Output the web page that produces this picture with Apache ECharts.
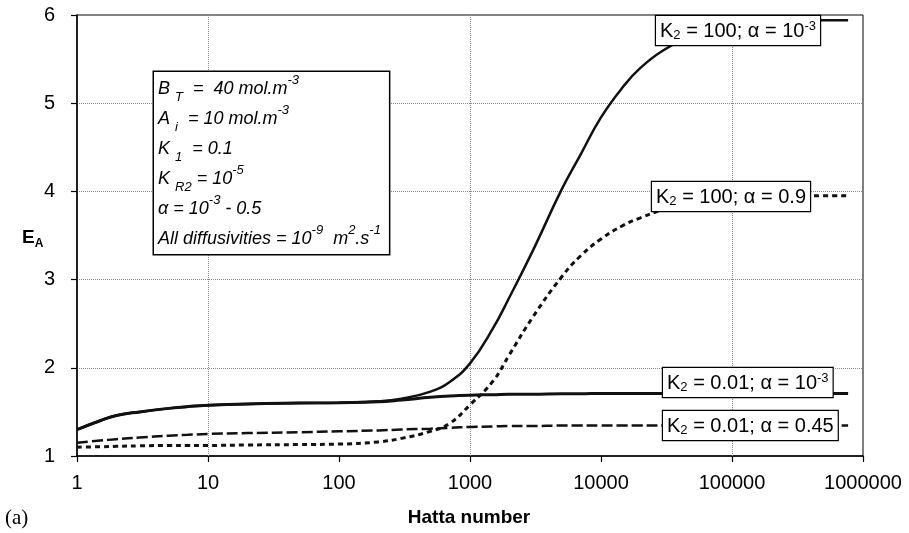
<!DOCTYPE html>
<html><head><meta charset="utf-8">
<script src="https://cdn.jsdelivr.net/npm/echarts@6/dist/echarts.min.js"></script>
<style>html,body{margin:0;padding:0;background:#fff}#c{width:909px;height:533px}</style>
</head><body><div id="c"></div>
<script>
// Hatta numbers (x) shared by all curves
const hatta = [1, 1.5, 2, 3, 5, 7, 10, 20, 50, 100, 200, 300, 500, 700, 1000, 1500, 2000, 3000, 5000, 7000, 10000, 15000, 20000, 30000, 50000, 100000, 200000, 500000, 770000];
// E_A curves
const eK100a0001 = [1.30,1.40,1.46,1.50,1.54,1.56,1.575,1.59,1.60,1.605, 1.62,1.65,1.73,1.84,2.05, 2.45,2.80,3.32,4.02,4.42, 4.84,5.20,5.40,5.60,5.76, 5.87,5.92,5.94,5.94];
const eK100a09   = [1.10,1.105,1.11,1.115,1.12,1.12,1.12,1.125,1.13,1.135, 1.16,1.20,1.28,1.37,1.58, 1.85,2.15,2.57,3.03,3.27, 3.46,3.62,3.70,3.79,3.86, 3.91,3.93,3.95,3.95];
const eK001a0001 = [1.30,1.40,1.46,1.50,1.54,1.56,1.575,1.59,1.60,1.605, 1.615,1.635,1.665,1.68,1.69, 1.695,1.70,1.70,1.705,1.705, 1.71,1.71,1.71,1.71,1.71, 1.71,1.71,1.71,1.71];
const eK001a045  = [1.15,1.175,1.19,1.21,1.23,1.24,1.25,1.26,1.27,1.28, 1.29,1.30,1.31,1.32,1.33, 1.335,1.34,1.34,1.345,1.345, 1.345,1.345,1.345,1.345,1.345, 1.345,1.345,1.345,1.345];
// axes
const xMin = 1, xMax = 1000000;
const yMin = 1, yMax = 6, yStep = 1;
const vGridAt = [10, 1000, 100000];

const pairs = ys => hatta.map((h, i) => [h, ys[i]]);
const FONT = 'Liberation Sans, Arial, sans-serif';
const chart = echarts.init(document.getElementById('c'), null, {renderer: 'canvas'});

const labelRich = {
  t: {fontSize: 20, fontFamily: FONT, fill: '#000', color: '#000', lineHeight: 22},
  s: {fontSize: 13, fontFamily: FONT, fill: '#000', color: '#000', lineHeight: 12, verticalAlign: 'bottom'},
  p: {fontSize: 13, fontFamily: FONT, fill: '#000', color: '#000', lineHeight: 12, verticalAlign: 'top'}
};
function boxLabel(x, y, text) {
  return {
    type: 'text', x: x, y: y, z: 100,
    style: {
      text: text, rich: labelRich, align: 'left', verticalAlign: 'top',
      backgroundColor: '#fff', borderColor: '#000', borderWidth: 1.2,
      padding: [4, 4, 3, 4]
    }
  };
}
const paramRich = {
  n: {fontSize: 18, fontStyle: 'italic', fontFamily: FONT, fill: '#000', color: '#000', lineHeight: 30},
  b: {fontSize: 13, fontStyle: 'italic', fontFamily: FONT, fill: '#000', color: '#000', lineHeight: 22, verticalAlign: 'bottom'},
  u: {fontSize: 13, fontStyle: 'italic', fontFamily: FONT, fill: '#000', color: '#000', lineHeight: 18, verticalAlign: 'top'}
};
const paramText = [
  '{n|B }{b|T}{n|  =  40 mol.m}{u|-3}',
  '{n|A }{b|i}{n|  = 10 mol.m}{u|-3}',
  '{n|K }{b|1}{n|  = 0.1}',
  '{n|K }{b|R2}{n| = 10}{u|-5}',
  '{n|α = 10}{u|-3}{n| - 0.5}',
  '{n|All diffusivities = 10}{u|-9}{n|  m}{u|2}{n|.s}{u|-1}'
].join('\n');

const option = {
  animation: false,
  backgroundColor: '#fff',
  grid: {left: 77, right: 46, top: 15, bottom: 77, show: true, borderColor: '#000', borderWidth: 1, containLabel: false, outerBoundsMode: 'none'},
  xAxis: {
    type: 'log', logBase: 10, min: xMin, max: xMax,
    axisLine: {show: true, lineStyle: {color: '#000', width: 1.5}},
    axisTick: {show: true, inside: false, length: 6, lineStyle: {color: '#000', width: 1.2}},
    axisLabel: {color: '#000', fontSize: 20, fontFamily: FONT, margin: 17, formatter: v => String(Math.round(v))},
    splitLine: {show: false},
    minorTick: {show: false}
  },
  yAxis: {
    type: 'value', min: yMin, max: yMax, interval: yStep,
    axisLine: {show: true, lineStyle: {color: '#000', width: 1.5}},
    axisTick: {show: true, inside: false, length: 6, lineStyle: {color: '#000', width: 1.2}},
    axisLabel: {color: '#000', fontSize: 20, fontFamily: FONT, margin: 22},
    splitLine: {show: true, lineStyle: {type: 'dotted', color: '#888', width: 1}}
  },
  series: [
    {
      name: 'K2 = 100; α = 10^-3', type: 'line', data: pairs(eK100a0001), showSymbol: false, symbol: 'none',
      smooth: 0.45, lineStyle: {color: '#111', width: 2.5, type: 'solid'}, z: 5,
      markLine: {
        silent: true, symbol: ['none', 'none'], label: {show: false},
        lineStyle: {type: 'dotted', color: '#888', width: 1}, z: 1,
        data: vGridAt.map(v => ({xAxis: v}))
      }
    },
    {
      name: 'K2 = 100; α = 0.9', type: 'line', data: pairs(eK100a09), showSymbol: false, symbol: 'none',
      smooth: 0.45, lineStyle: {color: '#111', width: 3, type: [5, 4]}, z: 5
    },
    {
      name: 'K2 = 0.01; α = 10^-3', type: 'line', data: pairs(eK001a0001), showSymbol: false, symbol: 'none',
      smooth: 0.45, lineStyle: {color: '#111', width: 3, type: 'solid'}, z: 5
    },
    {
      name: 'K2 = 0.01; α = 0.45', type: 'line', data: pairs(eK001a045), showSymbol: false, symbol: 'none',
      smooth: 0.45, lineStyle: {color: '#111', width: 2.5, type: [11, 4]}, z: 5
    }
  ],
  graphic: [
    {
      type: 'text', x: 154, y: 72, z: 100,
      style: {
        text: paramText, rich: paramRich, align: 'left', verticalAlign: 'top',
        backgroundColor: '#fff', borderColor: '#000', borderWidth: 1.5,
        padding: [2, 8, 0, 4]
      }
    },
    boxLabel(656, 16, '{t|K}{s|2}{t| = 100; α = 10}{p|-3}'),
    boxLabel(652, 182, '{t|K}{s|2}{t| = 100; α = 0.9}'),
    boxLabel(663, 368, '{t|K}{s|2}{t| = 0.01; α = 10}{p|-3}'),
    boxLabel(663, 411, '{t|K}{s|2}{t| = 0.01; α = 0.45}'),
    {
      type: 'text', x: 22, y: 238, z: 100,
      style: {
        text: '{e|E}{a|A}', align: 'left', verticalAlign: 'middle',
        rich: {
          e: {fontSize: 19, fontWeight: 'bold', fontFamily: FONT, fill: '#000', color: '#000', lineHeight: 24},
          a: {fontSize: 12, fontWeight: 'bold', fontFamily: FONT, fill: '#000', color: '#000', lineHeight: 12, verticalAlign: 'bottom'}
        }
      }
    },
    {
      type: 'text', x: 469, y: 518, z: 100,
      style: {text: 'Hatta number', fontSize: 19, fontWeight: 'bold', fontFamily: FONT, fill: '#000', align: 'center', verticalAlign: 'middle'}
    },
    {
      type: 'text', x: 5, y: 518, z: 100,
      style: {text: '(a)', fontSize: 21, fontFamily: 'Liberation Serif, Times New Roman, serif', fill: '#000', align: 'left', verticalAlign: 'middle'}
    }
  ]
};
chart.setOption(option);
</script>
</body></html>
